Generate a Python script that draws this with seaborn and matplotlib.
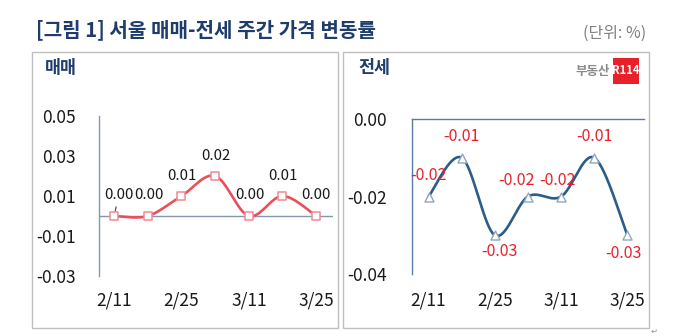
import numpy as np
import pandas as pd
import matplotlib
matplotlib.use("Agg")
import matplotlib.pyplot as plt
from matplotlib.patches import Rectangle
import seaborn as sns

# weekly dates and price change rates (%)
dates = ["2/11", "2/18", "2/25", "3/4", "3/11", "3/18", "3/25"]
sale_change = [0.00, 0.00, 0.01, 0.02, 0.00, 0.01, 0.00]      # 매매
jeonse_change = [-0.02, -0.01, -0.03, -0.02, -0.02, -0.01, -0.03]  # 전세
shown_dates = ["2/11", "2/25", "3/11", "3/25"]
sale_ticks = [0.05, 0.03, 0.01, -0.01, -0.03]
jeonse_ticks = [0.00, -0.02, -0.04]

sns.set_theme(style="white")
plt.rcParams["font.family"] = ["Noto Sans CJK KR", "DejaVu Sans"]

NAVY = "#1f3d6b"


def smooth(xs, ys, n=40):
    """Catmull-Rom style smoothing through every point (Bezier segments)."""
    p = np.column_stack([xs, ys]).astype(float)
    ext = np.vstack([p[0], p, p[-1]])
    out = []
    for i in range(len(p) - 1):
        p0, p1, p2, p3 = ext[i], ext[i + 1], ext[i + 2], ext[i + 3]
        c1 = p1 + (p2 - p0) / 6.0
        c2 = p2 - (p3 - p1) / 6.0
        t = np.linspace(0, 1, n, endpoint=(i == len(p) - 2))[:, None]
        seg = ((1 - t) ** 3) * p1 + 3 * ((1 - t) ** 2) * t * c1 + 3 * (1 - t) * t ** 2 * c2 + t ** 3 * p2
        out.append(seg)
    s = np.vstack(out)
    return pd.DataFrame({"x": s[:, 0], "y": s[:, 1]})


fig = plt.figure(figsize=(6.8, 3.36), dpi=100)
W, H = 680, 336


def fx(px):
    return px / W


def fy(py):
    return 1 - py / H


# panel frames
for x0, x1 in [(32, 338), (343, 649)]:
    fig.add_artist(Rectangle((fx(x0), fy(328)), (x1 - x0) / W, (328 - 52) / H,
                             transform=fig.transFigure, fill=False,
                             ec="#bfbfbf", lw=1.0))

fig.text(fx(36), fy(30), "[그림 1] 서울 매매-전세 주간 가격 변동률",
         fontsize=14.5, fontweight="bold", color=NAVY, ha="left", va="center")
fig.text(fx(646), fy(33), "(단위: %)", fontsize=11.5, color="#808080",
         ha="right", va="center")

xs = np.arange(len(dates))

# ---------- 매매 ----------
ax1 = fig.add_axes([fx(99), fy(276), 234 / W, 160 / H])
spine1 = "#8497b0"
sns.lineplot(data=smooth(xs, sale_change), x="x", y="y", ax=ax1,
             color="#e8505b", lw=1.9, sort=False, estimator=None)
sns.scatterplot(x=xs, y=sale_change, ax=ax1, marker="s", s=38,
                facecolor="white", edgecolor="#f08a92", linewidth=1.1, zorder=5)
ax1.axhline(0, color=spine1, lw=1.0, zorder=1)
ax1.set_xlim(-0.45, 6.5)
ax1.set_ylim(-0.03, 0.05)
ax1.set_yticks(sale_ticks)
ax1.set_yticklabels([f"{v:.2f}" for v in sale_ticks])
ax1.set_xticks([dates.index(d) for d in shown_dates])
ax1.set_xticklabels(shown_dates)
for side in ["top", "right", "bottom"]:
    ax1.spines[side].set_visible(False)
ax1.spines["left"].set_color(spine1)
ax1.spines["left"].set_linewidth(1.0)
ax1.tick_params(axis="y", direction="in", length=5, width=1, color=spine1,
                pad=17, labelsize=12.5, labelcolor="#1a1a1a")
ax1.tick_params(axis="x", length=0, pad=11, labelsize=12.5, labelcolor="#1a1a1a")
ax1.set_xlabel("")
ax1.set_ylabel("")
ax1.set_facecolor("none")

sale_offsets = [(3.3, 15), (0.5, 15), (0, 14.5), (0.5, 14.5), (0.5, 15), (0, 14.5), (0, 15)]
for i, (v, off) in enumerate(zip(sale_change, sale_offsets)):
    kw = {}
    if i == 0:
        kw["arrowprops"] = dict(arrowstyle="-", color="#404040", lw=0.8,
                                shrinkA=1, shrinkB=2.5)
    ax1.annotate(f"{v:.2f}", (xs[i], v), xytext=off, textcoords="offset points",
                 ha="center", va="center", fontsize=10.8, color="#1a1a1a", **kw)

fig.text(fx(45), fy(68), "매매", fontsize=12.5, fontweight="bold", color=NAVY,
         ha="left", va="center")

# ---------- 전세 ----------
ax2 = fig.add_axes([fx(412), fy(274), 232 / W, 155 / H])
spine2 = "#5b7ba3"
sns.lineplot(data=smooth(xs, jeonse_change), x="x", y="y", ax=ax2,
             color="#2b5d88", lw=1.9, sort=False, estimator=None)
sns.scatterplot(x=xs, y=jeonse_change, ax=ax2, marker="^", s=42,
                facecolor="white", edgecolor="#8ea6bf", linewidth=1.0, zorder=5)
ax2.set_xlim(-0.5, 6.5)
ax2.set_ylim(-0.04, 0.0)
ax2.set_yticks(jeonse_ticks)
ax2.set_yticklabels([f"{v:.2f}" for v in jeonse_ticks])
ax2.set_xticks([dates.index(d) for d in shown_dates])
ax2.set_xticklabels(shown_dates)
for side in ["right", "bottom"]:
    ax2.spines[side].set_visible(False)
for side in ["left", "top"]:
    ax2.spines[side].set_color(spine2)
    ax2.spines[side].set_linewidth(1.0)
ax2.tick_params(axis="y", direction="in", length=6, width=1, color=spine2,
                pad=18, labelsize=12.5, labelcolor="#1a1a1a")
ax2.tick_params(axis="x", length=0, pad=12.5, labelsize=12.5, labelcolor="#1a1a1a")
ax2.set_xlabel("")
ax2.set_ylabel("")
ax2.set_facecolor("none")

jeonse_offsets = [(0, 15), (0, 15), (3, -12), (-8, 11.5), (-3, 11.5), (0, 15), (-3, -13.5)]
for i, (v, off) in enumerate(zip(jeonse_change, jeonse_offsets)):
    ax2.annotate(f"{v:.2f}", (xs[i], v), xytext=off, textcoords="offset points",
                 ha="center", va="center", fontsize=11.5, color="#e8202a")

fig.text(fx(358), fy(68), "전세", fontsize=12.5, fontweight="bold", color=NAVY,
         ha="left", va="center")

# 부동산 R114 mark
fig.text(fx(610), fy(71), "부동산", fontsize=9, fontweight="bold",
         color="#8a8a8a", ha="right", va="center")
fig.add_artist(Rectangle((fx(613), fy(84)), 26 / W, 26 / H,
                         transform=fig.transFigure, fc="#e8202a", ec="none"))
fig.text(fx(626), fy(71), "R114", fontsize=8, fontweight="bold",
         color="white", ha="center", va="center")

fig.text(fx(654), fy(331), "↵", fontsize=6, color="#999999",
         ha="center", va="center")

fig.savefig("out.png", dpi=100, facecolor="white")
